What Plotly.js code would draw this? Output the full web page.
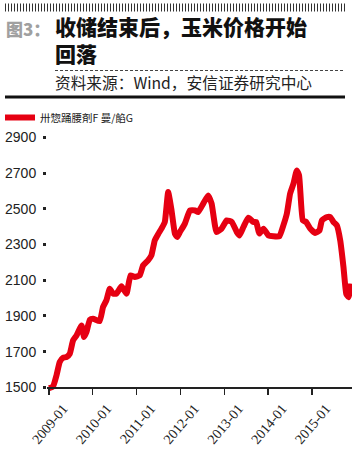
<!DOCTYPE html>
<html>
<head>
<meta charset="utf-8">
<script src="https://cdn.plot.ly/plotly-3.0.1.min.js"></script>
<style>html,body{margin:0;padding:0;background:#fff;}#chart{width:360px;height:454px;}</style>
</head>
<body>
<div id="chart"></div>
<script>
const dates = ['2009-01-01','2009-02-03','2009-03-04','2009-03-31','2009-04-28','2009-05-26','2009-06-23','2009-07-20','2009-08-18','2009-09-29','2009-10-20','2009-11-09','2009-12-07',
'2010-01-03','2010-02-27','2010-03-27','2010-04-24','2010-05-22','2010-06-19','2010-07-17','2010-08-28','2010-10-09','2010-11-11','2010-12-17',
'2011-01-27','2011-02-24','2011-04-06','2011-05-04','2011-06-01','2011-06-29','2011-07-27','2011-08-24','2011-09-21','2011-10-19','2011-11-16','2011-12-05','2011-12-28',
'2012-02-07','2012-03-20','2012-05-01','2012-05-28','2012-07-09','2012-08-19','2012-09-17','2012-10-28','2012-12-09',
'2013-01-21','2013-03-04','2013-04-15','2013-05-07','2013-06-09','2013-07-20','2013-08-31','2013-09-23','2013-10-20','2013-11-23',
'2014-01-03','2014-02-14','2014-04-05','2014-05-08','2014-06-06','2014-07-03','2014-07-31','2014-08-28','2014-09-16','2014-10-17','2014-11-14','2014-12-18',
'2015-01-28','2015-03-05','2015-03-25','2015-05-06','2015-06-03','2015-06-30','2015-07-28','2015-08-25','2015-09-21','2015-10-14','2015-11-02','2015-11-22'];
const prices = [1496,1505,1567,1642,1666,1670,1689,1763,1791,1847,1782,1810,1879,
1885,1871,1950,1987,2053,2025,2025,2066,2025,2127,2118,
2127,2183,2211,2239,2323,2358,2389,2426,2594,2491,2361,2342,2370,
2417,2491,2491,2482,2529,2575,2529,2370,2389,
2435,2426,2370,2351,2398,2450,2426,2426,2361,2389,
2351,2346,2346,2407,2473,2585,2641,2715,2687,2435,2426,2389,
2365,2379,2435,2454,2454,2426,2407,2323,2174,2025,2005,2081];
const seriesName = '卅惣踊腰剤F 曼/餡G';
const yTickVals = [1500,1700,1900,2100,2300,2500,2700,2900];
const yTickText = ['1500','1700','1900','2100','2300','2500','2700','2900'];
const titleText = '收储结束后，玉米价格开始<br>回落';
const figLabel = '图3：';
const sourceText = '资料来源：Wind，安信证券研究中心';

const W = 360, H = 454, M = {l: 47, r: 8, t: 132, b: 63};
const PW = W - M.l - M.r, PH = H - M.t - M.b;
const px = v => (v - M.l) / PW;          // pixel x -> paper x
const py = v => (H - M.b - v) / PH;      // pixel y -> paper y

const yMin = 1480, yMax = 2930;
const trace = {
  x: dates, y: prices, type: 'scatter', mode: 'lines', name: seriesName,
  line: {color: '#e60012', width: 6, shape: 'spline', smoothing: 0.4},
  showlegend: true
};
const layout = {
  width: W, height: H,
  margin: {l: M.l, r: M.r, t: M.t, b: M.b, autoexpand: false},
  paper_bgcolor: '#fff', plot_bgcolor: '#fff',
  showlegend: true,
  legend: {
    xref: 'paper', yref: 'paper', x: px(0), y: py(103), xanchor: 'left', yanchor: 'top',
    font: {family: 'Noto Sans CJK SC', size: 10.5, color: '#222'},
    itemwidth: 30, bgcolor: 'rgba(0,0,0,0)', tracegroupgap: 0
  },
  xaxis: {
    type: 'date', range: ['2008-12-15', '2015-12-01'],
    anchor: 'free', position: (1500 - yMin) / (yMax - yMin),
    showgrid: false, zeroline: false,
    showline: true, linecolor: '#222', linewidth: 1.5,
    ticks: 'outside', ticklen: 6, tickwidth: 1.3, tickcolor: '#222',
    tick0: '2009-01-01', dtick: 'M12', tickformat: '%Y-%m', tickangle: -50,
    ticklabelshift: 14,
    tickfont: {family: 'Liberation Serif', size: 14, color: '#222'}
  },
  yaxis: {
    range: [yMin, yMax], showgrid: false, zeroline: false, showline: false,
    tickvals: yTickVals, ticktext: yTickText,
    ticks: 'outside', ticklen: 3, tickwidth: 3, tickcolor: '#222',
    ticklabelstandoff: 4,
    tickfont: {family: 'Liberation Sans', size: 14, color: '#222'}
  },
  shapes: [
    {type: 'line', xref: 'paper', yref: 'paper', x0: px(5), x1: px(345), y0: py(7.5), y1: py(7.5),
     line: {color: '#333', width: 8, dash: '1px,2px'}},
    {type: 'line', xref: 'paper', yref: 'paper', x0: px(55), x1: px(345), y0: py(70.5), y1: py(70.5),
     line: {color: '#444', width: 1, dash: '3px,2px'}},
    {type: 'line', xref: 'paper', yref: 'paper', x0: px(5), x1: px(345), y0: py(97), y1: py(97),
     line: {color: '#111', width: 3}}
  ],
  annotations: [
    {text: titleText, xref: 'paper', yref: 'paper', x: px(53), y: py(9), xanchor: 'left', yanchor: 'top',
     align: 'left', showarrow: false,
     font: {family: 'Noto Sans CJK SC', size: 21, color: '#111', weight: 900}},
    {text: figLabel, xref: 'paper', yref: 'paper', x: px(4), y: py(29), xanchor: 'left', yanchor: 'middle',
     showarrow: false, font: {family: 'Noto Sans CJK SC', size: 17, color: '#a0a0a0', weight: 900}},
    {text: sourceText, xref: 'paper', yref: 'paper', x: px(53), y: py(83), xanchor: 'left', yanchor: 'middle',
     showarrow: false, font: {family: 'Noto Sans CJK SC', size: 15.7, color: '#222'}}
  ]
};
Plotly.newPlot('chart', [trace], layout, {displayModeBar: false, staticPlot: true});
</script>
</body>
</html>
